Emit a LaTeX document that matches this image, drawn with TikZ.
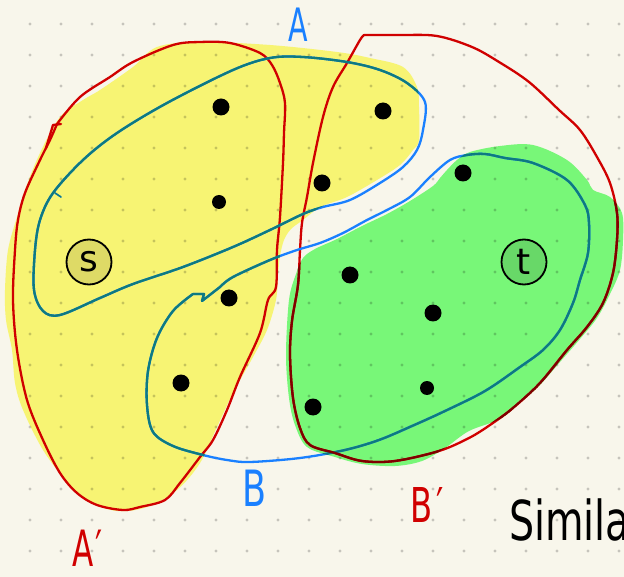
\documentclass[tikz,border=0pt]{standalone}
\usepackage{fontspec}
\newfontfamily\hand{DejaVu Sans}
\definecolor{paper}{HTML}{F8F6EB}
\definecolor{hlyellow}{HTML}{F7F473}
\definecolor{hlgreen}{HTML}{78F778}
\definecolor{penred}{HTML}{D00000}
\definecolor{pendarkred}{HTML}{7E0000}
\definecolor{penblue}{HTML}{1A80FF}
\definecolor{penteal}{HTML}{0E7A80}
\definecolor{sfill}{HTML}{DEDA66}
\definecolor{tfill}{HTML}{68D868}

\newcommand\YellowBlob{plot[smooth cycle, tension=0.55] coordinates {
 (5,290) (8,250) (17,217) (25,190) (40,153) (60,117) (83,100) (100,90) (133,67) (157,47)
 (200,42) (270,45) (337,52) (370,58) (403,67) (417,87) (419,107) (419,140) (413,150)
 (400,165) (377,180) (347,197) (325,205) (313,212) (303,220) (291,229) (284,240)
 (280,256) (278,275) (276,300) (267,330) (253,357) (233,393) (217,427) (200,463)
 (177,490) (147,507) (117,511) (87,501) (67,482) (43,450) (23,410) (15,383) (12,350) (6,320)}}
\newcommand\GreenBlob{plot[smooth cycle, tension=0.55] coordinates {
 (440,178) (433,186) (410,201) (387,214) (362,226) (337,239) (315,249) (303,258)
 (296,274) (289,300) (286,355) (289,398) (295,425) (307,447) (335,457) (362,464)
 (395,466) (422,461) (445,448) (469,431) (500,419) (520,403) (540,385) (560,362)
 (580,339) (597,318) (610,294) (620,270) (623,240) (622,213) (610,197) (593,190)
 (587,180) (567,160) (533,145) (500,146) (470,152) (457,160) (447,170)}}
\newcommand\CurveAp{plot[smooth, tension=0.55] coordinates {
 (57,124) (80,97) (110,77) (133,62) (173,45) (200,42) (230,43) (260,53) (272,65)
 (280,83) (285,103) (284,133) (283,163) (280,217) (277,250) (276,287) (268,300)
 (260,333) (240,377) (227,410) (213,440) (200,457) (180,483) (165,500) (140,507)
 (123,510) (97,505) (77,493) (60,473) (43,440) (27,400) (17,350) (13,300) (15,250)
 (18,220) (25,193) (40,160) (50,140) (57,124)}}
\newcommand\CurveBp{plot[smooth, tension=0.55] coordinates {
 (364,35) (400,35) (437,36) (472,47) (499,62) (529,82) (559,110) (580,130) (597,157)
 (610,183) (617,213) (617,240) (613,273) (603,303) (587,327) (567,350) (540,383)
 (513,408) (490,425) (469,438) (439,451) (395,461) (362,461) (335,453) (310,445)
 (300,428) (293,398) (290,355) (292,321) (298,285) (300,250) (302,223) (307,197)
 (313,163) (323,117) (333,87) (347,63) (360,40) (364,35)}}
\newcommand\CurveA{plot[smooth cycle, tension=0.55] coordinates {
 (34,290) (35,250) (40,220) (53,193) (83,160) (117,133) (167,103) (233,70) (270,58)
 (303,57) (347,62) (380,70) (407,83) (425,102) (423,130) (417,150) (403,167) (380,183)
 (350,200) (323,207) (303,214) (270,230) (233,247) (183,267) (133,284) (100,298)
 (60,315) (43,311)}}
\newcommand\CurveB{plot[smooth, tension=0.55] coordinates {
 (193,294) (173,311) (157,338) (148,371) (147,405) (153,432) (173,446) (203,455)
 (227,460) (250,462) (300,458) (345,450) (379,440) (412,426) (445,411) (485,391)
 (520,367) (543,350) (560,330) (573,303) (580,280) (588,253) (589,223) (585,205)
 (567,180) (533,163) (505,158) (485,154) (467,155) (450,160) (430,177) (410,197)
 (387,210) (367,220) (343,233) (320,243) (297,250) (270,260) (233,277) (220,287)}
 -- (202,301) -- (204,294) -- (193,294)}

\begin{document}
\begin{tikzpicture}[x=1pt,y=-1pt,
  pen/.style={line width=2.3pt, line cap=round, line join=round},
  griddot/.style={fill=black, fill opacity=0.2},
  blackdot/.style={circle, fill=black, inner sep=0pt, minimum size=17pt},
  smalldot/.style={circle, fill=black, inner sep=0pt, minimum size=14pt},
  terminal/.style={circle, draw=black, line width=1.8pt, minimum size=45pt, inner sep=0pt,
    font=\hand\fontsize{36}{36}\selectfont},
  handlabel/.style={inner sep=0pt, text depth=0pt}]
\useasboundingbox (0,0) rectangle (624,577);
\clip (0,0) rectangle (624,577);
\fill[paper] (0,0) rectangle (624,577);

% highlighter
\fill[hlyellow] \YellowBlob;
\fill[hlgreen] \GreenBlob;

% dot grid
\foreach \i in {0,...,19}
  \foreach \j in {0,...,17}
    \fill[griddot] ({30+31*\i},{24+31*\j}) circle (1.6pt);

% pen strokes, base colours
\draw[pen, penred] \CurveAp;
\draw[pen, penred] (46,148) -- (53,125) -- (61,124);
\draw[pen, penred] \CurveBp;
\draw[pen, penblue] \CurveA;
\draw[pen, penblue, line width=1.4pt] (55,193) -- (61,197);
\draw[pen, penblue] \CurveB;

% strokes seen through the yellow highlighter
\begin{scope}
  \clip \YellowBlob;
  \draw[pen, penteal] \CurveA;
  \draw[pen, penteal, line width=1.4pt] (55,193) -- (61,197);
  \draw[pen, penteal] \CurveB;
\end{scope}
% strokes seen through the green highlighter
\begin{scope}
  \clip \GreenBlob;
  \draw[pen, penteal] \CurveB;
  \draw[pen, pendarkred] \CurveBp;
\end{scope}

% vertices
\node[blackdot] (d1) at (221,107) {};
\node[smalldot] (d2) at (219,202) {};
\node[blackdot] (d3) at (383,111) {};
\node[blackdot] (d4) at (322,183) {};
\node[blackdot] (d5) at (229,298) {};
\node[blackdot] (d6) at (181,383) {};
\node[blackdot] (d7) at (463,173) {};
\node[blackdot] (d8) at (350,275) {};
\node[blackdot] (d9) at (433,313) {};
\node[smalldot] (d10) at (427,388) {};
\node[blackdot] (d11) at (313,407) {};
\node[terminal, fill=sfill] (s) at (89,262) {s};
\node[terminal, fill=tfill] (t) at (524,262) {t};

% labels
\node[handlabel, anchor=base, text=penblue] (labA) at (298,42)
  {\hand\fontsize{46}{46}\selectfont\scalebox{0.62}[1]{A}};
\node[handlabel, anchor=base, text=penblue] (labB) at (255,506)
  {\hand\fontsize{50}{50}\selectfont\scalebox{0.70}[1]{B}};
\node[handlabel, anchor=base west, text=penred] (labAp) at (72,566)
  {\hand\fontsize{50}{50}\selectfont\scalebox{0.62}[1]{A\kern4pt′}};
\node[handlabel, anchor=base west, text=penred] (labBp) at (410,522)
  {\hand\fontsize{48}{48}\selectfont\scalebox{0.67}[1]{B\kern6pt′}};
\node[handlabel, anchor=base west, text=black] (labSim) at (509,540)
  {\hand\fontsize{55}{55}\selectfont\scalebox{0.72}[1]{Similar}};
\end{tikzpicture}
\end{document}
